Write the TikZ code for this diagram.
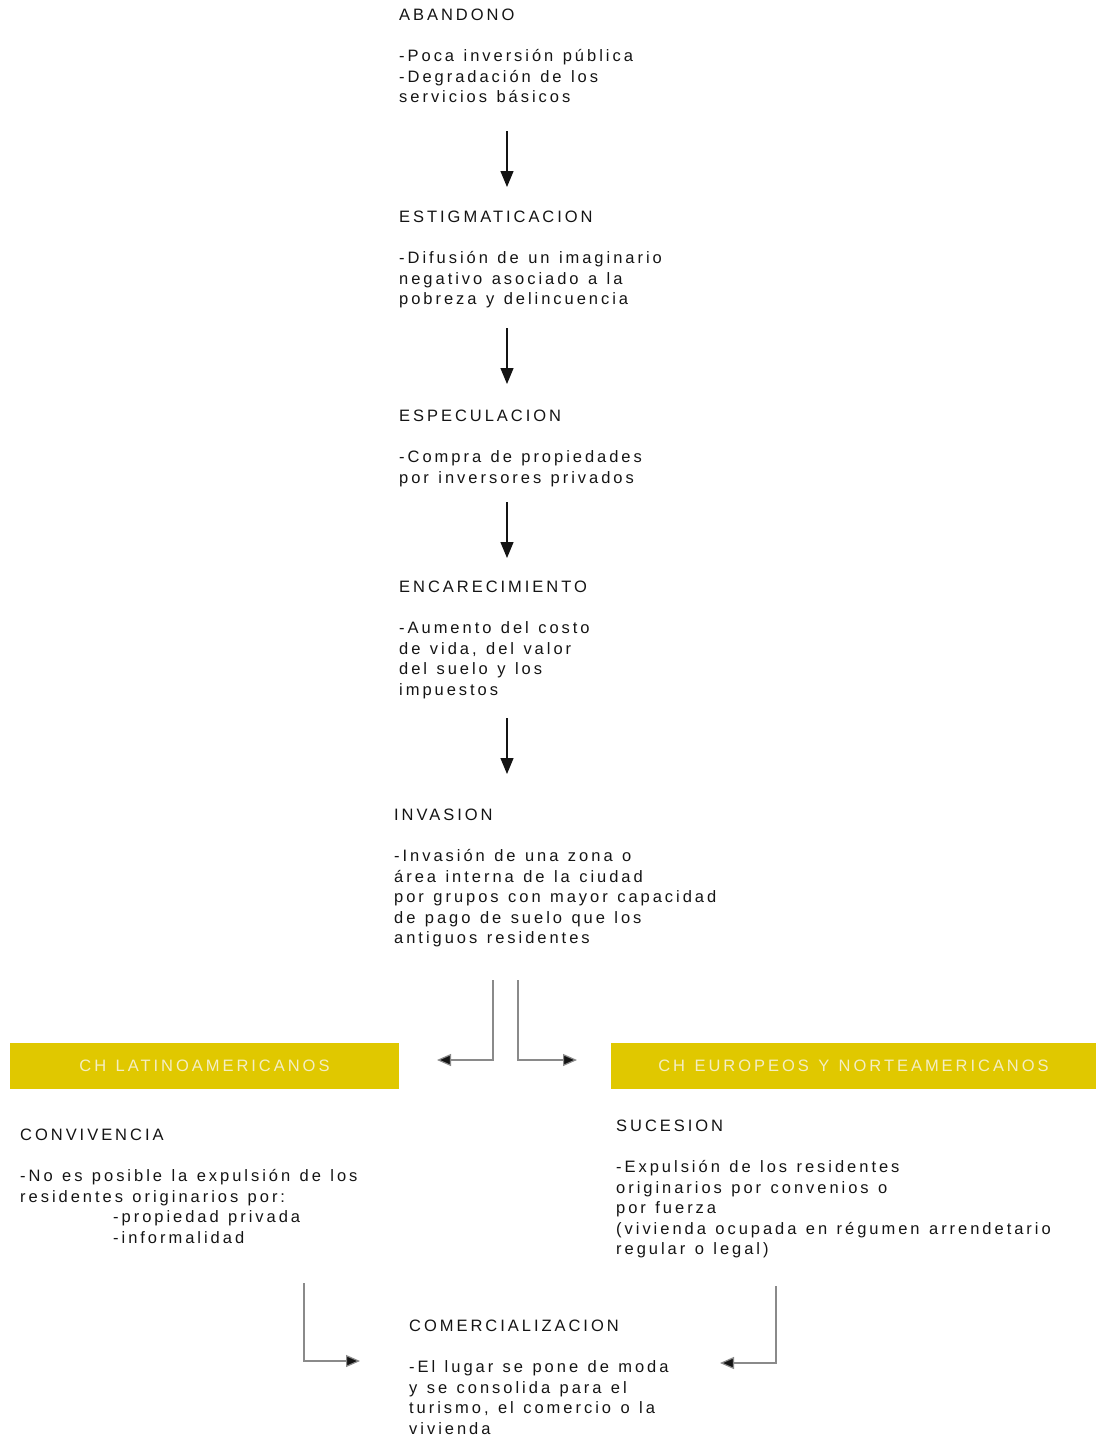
\documentclass[tikz,border=0pt]{standalone}
\usepackage{fontspec}
\setmainfont{Liberation Sans}[LetterSpace=18,WordSpace=1.25]
\usetikzlibrary{arrows.meta}
\definecolor{ink}{HTML}{141414}
\definecolor{band}{HTML}{E0C800}
\definecolor{bandtext}{HTML}{F4EEC4}
\definecolor{wire}{HTML}{8A8A8A}
\tikzset{
  block/.style={anchor=north west, align=left, inner sep=0pt, text=ink,
    font=\fontsize{16.5}{20.5}\selectfont},
  banner/.style={fill=band, text=bandtext, inner sep=0pt, minimum height=46pt,
    font=\fontsize{16.5}{20.5}\selectfont},
  flow/.style={draw=ink, line width=1.3pt, -{Triangle[width=13pt,length=16pt]}},
  branch/.style={draw=wire, line width=1.2pt, -{Triangle[width=12pt,length=14pt,fill=ink]}},
}
\begin{document}
\begin{tikzpicture}[x=1pt,y=-1pt]
\useasboundingbox (0,0) rectangle (1096,1441);

% chain of stages (each block placed by the top of its heading)
\node[block] (abandono) at (399,9) {ABANDONO\\[20.5pt]-Poca inversión pública\\-Degradación de los\\servicios básicos};
\node[block] (estig) at (399,211) {ESTIGMATICACION\\[20.5pt]-Difusión de un imaginario\\negativo asociado a la\\pobreza y delincuencia};
\node[block] (espec) at (399,410) {ESPECULACION\\[20.5pt]-Compra de propiedades\\por inversores privados};
\node[block] (encar) at (399,581) {ENCARECIMIENTO\\[20.5pt]-Aumento del costo\\de vida, del valor\\del suelo y los\\impuestos};
\node[block] (invasion) at (394,809) {INVASION\\[20.5pt]-Invasión de una zona o\\área interna de la ciudad\\por grupos con mayor capacidad\\de pago de suelo que los\\antiguos residentes};

% vertical arrows between stages
\coordinate (a1s) at (507,131); \coordinate (a1e) at (507,187);
\coordinate (a2s) at (507,328); \coordinate (a2e) at (507,384);
\coordinate (a3s) at (507,502); \coordinate (a3e) at (507,558);
\coordinate (a4s) at (507,718); \coordinate (a4e) at (507,774);
\draw[flow] (a1s) -- (a1e);
\draw[flow] (a2s) -- (a2e);
\draw[flow] (a3s) -- (a3e);
\draw[flow] (a4s) -- (a4e);

% the two regional branches
\node[banner, minimum width=389pt] (latam) at (204.5,1066) {CH LATINOAMERICANOS};
\node[banner, minimum width=485pt] (euro) at (853.5,1066) {CH EUROPEOS Y NORTEAMERICANOS};

\coordinate (bls) at (493,980); \coordinate (ble) at (437,1060);
\coordinate (brs) at (518,980); \coordinate (bre) at (577,1060);
\draw[branch] (bls) |- (ble);
\draw[branch] (brs) |- (bre);

\node[block] (conv) at (20,1129) {CONVIVENCIA\\[20.5pt]-No es posible la expulsión de los\\residentes originarios por:\\\hspace*{93pt}-propiedad privada\\\hspace*{93pt}-informalidad};
\node[block] (suces) at (616,1120) {SUCESION\\[20.5pt]-Expulsión de los residentes\\originarios por convenios o\\por fuerza\\(vivienda ocupada en régumen arrendetario\\regular o legal)};

% final stage
\node[block] (comer) at (409,1320) {COMERCIALIZACION\\[20.5pt]-El lugar se pone de moda\\y se consolida para el\\turismo, el comercio o la\\vivienda};

\coordinate (cls) at (304,1283); \coordinate (cle) at (360,1361);
\coordinate (crs) at (776,1286); \coordinate (cre) at (720,1363);
\draw[branch] (cls) |- (cle);
\draw[branch] (crs) |- (cre);
\end{tikzpicture}
\end{document}
